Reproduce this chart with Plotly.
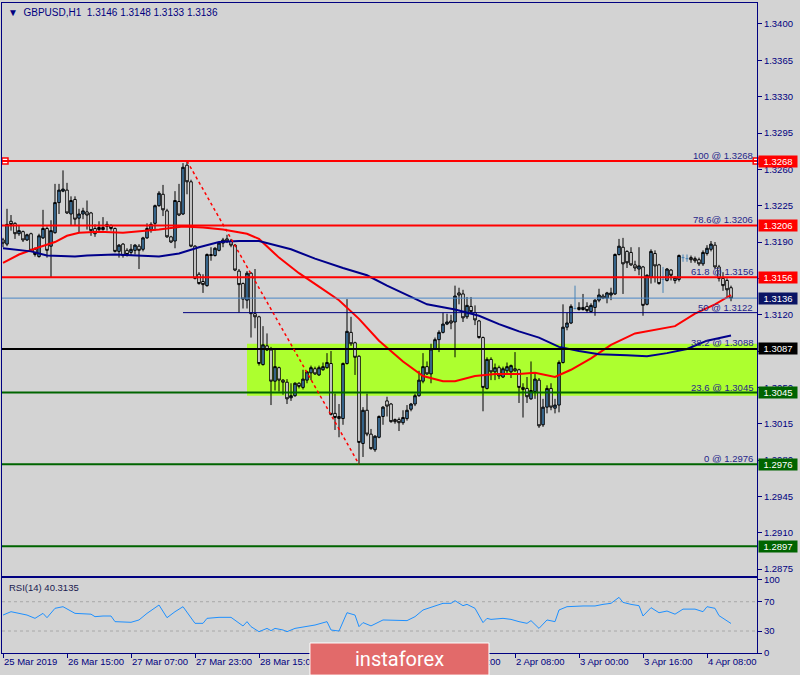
import plotly.graph_objects as go

# ---------------- data ----------------
bar_index = list(range(183))
opens = [1.3192,1.3188,1.3210,1.3208,1.3198,1.3200,1.3192,1.3198,1.3183,1.3176,
         1.3194,1.3203,1.3186,1.3199,1.3228,1.3239,1.3240,1.3217,1.3231,1.3213,
         1.3217,1.3219,1.3218,1.3203,1.3202,1.3202,1.3207,1.3206,1.3203,1.3181,
         1.3188,1.3182,1.3180,1.3182,1.3186,1.3183,1.3194,1.3202,1.3208,1.3225,
         1.3236,1.3220,1.3195,1.3191,1.3229,1.3217,1.3264,1.3248,1.3186,1.3159,
         1.3152,1.3148,1.3178,1.3177,1.3182,1.3189,1.3193,1.3191,1.3187,1.3162,
         1.3150,1.3134,1.3160,1.3121,1.3118,1.3072,1.3090,1.3086,1.3056,1.3069,
         1.3057,1.3055,1.3040,1.3042,1.3054,1.3050,1.3057,1.3064,1.3068,1.3062,
         1.3067,1.3069,1.3073,1.3025,1.3022,1.3020,1.3073,1.3103,1.3093,1.3080,
         1.2996,1.3028,1.3005,1.2990,1.3002,1.3022,1.3037,1.3034,1.3019,1.3019,
         1.3016,1.3020,1.3029,1.3034,1.3042,1.3056,1.3070,1.3063,1.3087,1.3096,
         1.3103,1.3111,1.3114,1.3113,1.3141,1.3140,1.3118,1.3128,1.3122,1.3114,
         1.3098,1.3049,1.3077,1.3065,1.3069,1.3060,1.3066,1.3065,1.3068,1.3067,
         1.3050,1.3049,1.3039,1.3046,1.3057,1.3014,1.3031,1.3049,1.3030,1.3033,
         1.3074,1.3108,1.3112,1.3126,1.3127,1.3125,1.3128,1.3123,1.3127,1.3134,
         1.3138,1.3136,1.3139,1.3140,1.3178,1.3185,1.3181,1.3180,1.3168,1.3164,
         1.3166,1.3130,1.3156,1.3179,1.3168,1.3154,1.3153,1.3163,1.3153,1.3154,
         1.3175,1.3174,1.3175,1.3174,1.3173,1.3169,1.3179,1.3183,1.3187,1.3166,
         1.3155,1.3153,1.3146]
highs = [1.3194,1.3222,1.3216,1.3209,1.3206,1.3201,1.3198,1.3199,1.3185,1.3198,
         1.3221,1.3205,1.3211,1.3246,1.3246,1.3259,1.3247,1.3234,1.3234,1.3222,
         1.3223,1.3230,1.3219,1.3207,1.3210,1.3214,1.3210,1.3207,1.3204,1.3188,
         1.3189,1.3184,1.3188,1.3188,1.3188,1.3195,1.3208,1.3209,1.3226,1.3239,
         1.3245,1.3222,1.3196,1.3239,1.3246,1.3266,1.3268,1.3250,1.3187,1.3161,
         1.3159,1.3179,1.3185,1.3185,1.3190,1.3194,1.3197,1.3193,1.3188,1.3164,
         1.3151,1.3162,1.3161,1.3164,1.3119,1.3109,1.3102,1.3089,1.3086,1.3070,
         1.3058,1.3058,1.3054,1.3055,1.3055,1.3067,1.3066,1.3071,1.3070,1.3071,
         1.3074,1.3083,1.3085,1.3044,1.3034,1.3074,1.3135,1.3118,1.3094,1.3081,
         1.3031,1.3044,1.3010,1.3004,1.3023,1.3032,1.3041,1.3035,1.3020,1.3021,
         1.3028,1.3033,1.3035,1.3044,1.3066,1.3083,1.3075,1.3092,1.3098,1.3105,
         1.3122,1.3121,1.3120,1.3148,1.3146,1.3144,1.3137,1.3137,1.3129,1.3115,
         1.3099,1.3079,1.3079,1.3073,1.3071,1.3070,1.3074,1.3072,1.3084,1.3068,
         1.3054,1.3060,1.3075,1.3063,1.3059,1.3039,1.3052,1.3054,1.3039,1.3076,
         1.3130,1.3122,1.3130,1.3148,1.3132,1.3140,1.3132,1.3131,1.3135,1.3145,
         1.3140,1.3142,1.3146,1.3179,1.3193,1.3194,1.3182,1.3185,1.3172,1.3185,
         1.3167,1.3159,1.3183,1.3182,1.3169,1.3166,1.3165,1.3164,1.3157,1.3178,
         1.3178,1.3178,1.3177,1.3176,1.3175,1.3182,1.3187,1.3191,1.3190,1.3168,
         1.3161,1.3155,1.3148]
lows = [1.3185,1.3186,1.3201,1.3193,1.3196,1.3190,1.3191,1.3181,1.3176,1.3175,
        1.3193,1.3175,1.3156,1.3198,1.3217,1.3238,1.3217,1.3206,1.3206,1.3199,
        1.3212,1.3202,1.3196,1.3195,1.3200,1.3201,1.3201,1.3201,1.3180,1.3175,
        1.3175,1.3176,1.3177,1.3178,1.3164,1.3181,1.3193,1.3199,1.3201,1.3224,
        1.3215,1.3194,1.3189,1.3184,1.3215,1.3216,1.3236,1.3185,1.3154,1.3149,
        1.3141,1.3147,1.3172,1.3176,1.3181,1.3185,1.3189,1.3185,1.3162,1.3122,
        1.3126,1.3126,1.3098,1.3107,1.3071,1.3071,1.3085,1.3033,1.3047,1.3046,
        1.3043,1.3034,1.3037,1.3041,1.3049,1.3048,1.3054,1.3057,1.3062,1.3061,
        1.3066,1.3068,1.3023,1.3009,1.3002,1.3014,1.3072,1.3090,1.3062,1.2976,
        1.2983,1.3003,1.2990,1.2988,1.3001,1.3014,1.3022,1.3016,1.3015,1.3008,
        1.3014,1.3018,1.3027,1.3032,1.3041,1.3054,1.3062,1.3054,1.3086,1.3084,
        1.3102,1.3110,1.3106,1.3079,1.3130,1.3113,1.3116,1.3121,1.3110,1.3097,
        1.3027,1.3048,1.3057,1.3057,1.3058,1.3059,1.3063,1.3059,1.3065,1.3035,
        1.3021,1.3035,1.3038,1.3039,1.3011,1.3012,1.3025,1.3028,1.3025,1.3026,
        1.3073,1.3105,1.3111,1.3125,1.3124,1.3124,1.3122,1.3122,1.3119,1.3132,
        1.3135,1.3131,1.3134,1.3139,1.3177,1.3140,1.3165,1.3167,1.3162,1.3158,
        1.3119,1.3129,1.3150,1.3151,1.3149,1.3141,1.3152,1.3153,1.3150,1.3152,
        1.3171,1.3171,1.3170,1.3170,1.3167,1.3167,1.3177,1.3181,1.3164,1.3152,
        1.3143,1.3137,1.3133]
closes = [1.3189,1.3207,1.3207,1.3198,1.3201,1.3192,1.3197,1.3182,1.3178,1.3196,
          1.3203,1.3182,1.3201,1.3228,1.3240,1.3241,1.3218,1.3230,1.3212,1.3217,
          1.3220,1.3216,1.3201,1.3198,1.3204,1.3204,1.3205,1.3203,1.3181,1.3187,
          1.3177,1.3178,1.3183,1.3187,1.3182,1.3194,1.3203,1.3207,1.3225,1.3237,
          1.3221,1.3195,1.3190,1.3230,1.3216,1.3262,1.3248,1.3186,1.3155,1.3150,
          1.3149,1.3178,1.3177,1.3184,1.3189,1.3192,1.3191,1.3187,1.3163,1.3149,
          1.3135,1.3160,1.3121,1.3118,1.3073,1.3091,1.3086,1.3056,1.3070,1.3057,
          1.3055,1.3039,1.3042,1.3054,1.3051,1.3058,1.3065,1.3069,1.3063,1.3069,
          1.3070,1.3074,1.3024,1.3021,1.3020,1.3073,1.3104,1.3092,1.3079,1.2997,
          1.3028,1.3005,1.2991,1.3003,1.3022,1.3031,1.3032,1.3017,1.3017,1.3016,
          1.3021,1.3028,1.3034,1.3042,1.3057,1.3070,1.3063,1.3087,1.3096,1.3103,
          1.3111,1.3113,1.3112,1.3138,1.3139,1.3117,1.3129,1.3123,1.3115,1.3098,
          1.3050,1.3077,1.3065,1.3069,1.3061,1.3068,1.3070,1.3071,1.3066,1.3050,
          1.3048,1.3041,1.3047,1.3058,1.3013,1.3031,1.3049,1.3031,1.3033,1.3074,
          1.3108,1.3112,1.3128,1.3126,1.3125,1.3127,1.3124,1.3129,1.3134,1.3139,
          1.3136,1.3141,1.3141,1.3178,1.3186,1.3169,1.3170,1.3168,1.3165,1.3167,
          1.3129,1.3158,1.3181,1.3167,1.3150,1.3154,1.3164,1.3158,1.3156,1.3177,
          1.3175,1.3174,1.3173,1.3172,1.3169,1.3180,1.3184,1.3188,1.3166,1.3155,
          1.3148,1.3144,1.3136]

ma_fast_idx = [0, 4, 9, 13, 16, 19, 24, 30, 39, 45, 50, 55, 61, 64, 69, 74, 79, 84, 89, 94,
               100, 105, 110, 113, 118, 123, 129, 133, 138, 142, 147, 152, 158, 162, 168, 173, 178, 182]
ma_fast = [1.3170, 1.3178, 1.3185, 1.3190, 1.3196, 1.3199, 1.3200, 1.3199, 1.3202, 1.3205,
           1.3204, 1.3202, 1.3198, 1.3193, 1.3175, 1.3160, 1.3147, 1.3134, 1.3116, 1.3095,
           1.3075, 1.3061, 1.3056, 1.3056, 1.3061, 1.3063, 1.3063, 1.3064, 1.3060, 1.3067,
           1.3078, 1.3091, 1.3102, 1.3105, 1.3109, 1.3121, 1.3130, 1.3139]
ma_slow_idx = [0, 7, 11, 18, 21, 28, 39, 44, 49, 54, 59, 64, 72, 78, 85, 91, 96, 100, 106,
               113, 119, 124, 129, 134, 139, 144, 149, 156, 161, 166, 171, 176, 181, 182]
ma_slow = [1.3184, 1.3181, 1.3177, 1.3176, 1.3177, 1.3178, 1.3176, 1.3179, 1.3185, 1.3190,
           1.3191, 1.3191, 1.3183, 1.3174, 1.3165, 1.3158, 1.3148, 1.3141, 1.3130,
           1.3125, 1.3119, 1.3111, 1.3104, 1.3098, 1.3089, 1.3085, 1.3082, 1.3081, 1.3080,
           1.3083, 1.3087, 1.3095, 1.3099, 1.3100]

rsi_idx = [0, 2, 4, 6, 8, 10, 11, 13, 15, 17, 18, 22, 23, 25, 27, 28, 30, 32, 34, 36, 39, 41,
           43, 45, 48, 50, 51, 54, 57, 60, 61, 62, 64, 66, 67, 68, 70, 71, 73, 76, 78, 81, 82,
           84, 86, 88, 89, 90, 92, 95, 99, 101, 103, 105, 108, 110, 112, 113, 115, 116, 118,
           120, 121, 122, 125, 127, 129, 131, 132, 134, 136, 138, 139, 141, 145, 148, 150, 152,
           154, 155, 157, 159, 160, 162, 164, 166, 168, 170, 173, 175, 176, 178, 179, 180, 182]
rsi_vals = [51.8, 56.4, 54.1, 51.8, 47.3, 54.1, 48.2, 61.0, 63.2, 56.4, 54.1, 53.0, 49.6, 50.5,
            50.5, 42.8, 42.8, 41.9, 45.1, 54.1, 65.5, 48.2, 56.4, 63.2, 40.5, 40.5, 47.3, 48.7,
            48.7, 36.9, 42.8, 36.0, 29.1, 33.6, 30.5, 33.6, 31.4, 29.1, 33.6, 36.0, 38.2, 42.8,
            31.4, 30.0, 55.0, 51.8, 36.0, 41.5, 37.0, 45.1, 44.2, 44.2, 49.6, 58.7, 64.2, 67.8,
            67.8, 71.4, 64.6, 66.4, 61.0, 41.5, 47.3, 45.9, 47.3, 45.9, 42.8, 40.5, 44.2, 33.6,
            45.1, 42.8, 58.7, 63.2, 64.2, 64.2, 66.4, 67.8, 76.0, 69.1, 66.4, 64.6, 50.5, 61.9,
            55.0, 57.3, 53.0, 59.9, 59.9, 56.4, 63.2, 61.0, 51.0, 47.3, 40.3]

time_tick_idx = [0, 16, 32, 48, 64, 80, 96, 112, 128, 144, 160, 176]
time_tick_labels = ["25 Mar 2019", "26 Mar 15:00", "27 Mar 07:00", "27 Mar 23:00",
                    "28 Mar 15:00", "29 Mar 07:00", "29 Mar 23:00", "1 Apr 16:00",
                    "2 Apr 08:00", "3 Apr 00:00", "3 Apr 16:00", "4 Apr 08:00"]
price_ticks = [1.2875, 1.2910, 1.2945, 1.2980, 1.3015, 1.3050, 1.3085, 1.3120,
               1.3155, 1.3190, 1.3225, 1.3260, 1.3295, 1.3330, 1.3365, 1.3400]
rsi_ticks = [0, 30, 70, 100]

# horizontal levels: price, colour, width, starting bar
level_prices = [1.3268, 1.3206, 1.3156, 1.3136, 1.3122, 1.3087, 1.3045, 1.2976, 1.2897]
level_colors = ["#ff0000", "#ff0000", "#ff0000", "#4a86c6", "#000080", "#000000",
                "#006400", "#006400", "#006400"]
level_widths = [2, 2, 2, 1, 1, 2, 2, 2, 2]
level_start = [None, None, None, None, 45, None, None, None, None]
box_prices = [1.3268, 1.3206, 1.3156, 1.3136, 1.3087, 1.3045, 1.2976, 1.2897]
box_colors = ["#ff0000", "#ff0000", "#ff0000", "#0a1464", "#000000", "#006400", "#006400", "#006400"]

fib_texts = ["100 @ 1.3268", "78.6@ 1.3206", "61.8 @ 1.3156", "50 @ 1.3122",
             "38.2 @ 1.3088", "23.6 @ 1.3045", "0 @ 1.2976"]
fib_prices = [1.3268, 1.3206, 1.3156, 1.3122, 1.3088, 1.3045, 1.2976]

zone_low, zone_high, zone_start = 1.3042, 1.3092, 61
fib_from = (46, 1.3268)
fib_to = (89, 1.2976)

# ---------------- figure ----------------
NAVY = "#000080"
BG = "#d3d3d3"
FONT = "Liberation Sans, Arial, sans-serif"
X_MIN, X_MAX = -0.25, 188.5

normal = [i for i in bar_index if opens[i] != closes[i]]
doji = [i for i in bar_index if opens[i] == closes[i]]

fig = go.Figure()
fig.add_trace(go.Candlestick(
    x=[bar_index[i] for i in normal],
    open=[opens[i] for i in normal], high=[highs[i] for i in normal],
    low=[lows[i] for i in normal], close=[closes[i] for i in normal],
    increasing=dict(line=dict(color="black", width=1), fillcolor="#4682b4"),
    decreasing=dict(line=dict(color="black", width=1), fillcolor="#ffffff"),
    whiskerwidth=0, xaxis="x", yaxis="y", hoverinfo="skip"))

dx, dy = [], []
for i in doji:
    dx += [bar_index[i], bar_index[i], None, bar_index[i] - 0.35, bar_index[i] + 0.35, None]
    dy += [lows[i], highs[i], None, opens[i], opens[i], None]
fig.add_trace(go.Scatter(x=dx, y=dy, mode="lines", line=dict(color="#4682b4", width=1),
                         xaxis="x", yaxis="y", hoverinfo="skip"))

fig.add_trace(go.Scatter(x=ma_fast_idx, y=ma_fast, mode="lines",
                         line=dict(color="#ff0000", width=2), xaxis="x", yaxis="y"))
fig.add_trace(go.Scatter(x=ma_slow_idx, y=ma_slow, mode="lines",
                         line=dict(color="#00008b", width=2), xaxis="x", yaxis="y"))
fig.add_trace(go.Scatter(x=[0.5, X_MAX - 0.2], y=[level_prices[0], level_prices[0]], mode="markers",
                         marker=dict(symbol="square", size=6, color="white",
                                     line=dict(color="#ff0000", width=1.5)),
                         xaxis="x", yaxis="y", cliponaxis=False))
fig.add_trace(go.Scatter(x=rsi_idx, y=rsi_vals, mode="lines",
                         line=dict(color="#1e90ff", width=1), xaxis="x2", yaxis="y2"))

shapes = [dict(type="rect", xref="x", yref="y", x0=zone_start, x1=X_MAX, y0=zone_low, y1=zone_high,
               fillcolor="#adff2f", line=dict(width=0), layer="below")]
for p, c, w, s in zip(level_prices, level_colors, level_widths, level_start):
    shapes.append(dict(type="line", xref="x", yref="y", x0=X_MIN if s is None else s, x1=X_MAX,
                       y0=p, y1=p, line=dict(color=c, width=w), layer="above"))
shapes.append(dict(type="line", xref="x", yref="y", x0=fib_from[0], y0=fib_from[1],
                   x1=fib_to[0], y1=fib_to[1], line=dict(color="#ff0000", width=1.5, dash="dot"),
                   layer="above"))
for v in (70, 30):
    shapes.append(dict(type="line", xref="x2", yref="y2", x0=X_MIN, x1=X_MAX, y0=v, y1=v,
                       line=dict(color="#a8a8a8", width=1, dash="dot"), layer="below"))
shapes.append(dict(type="rect", xref="paper", yref="paper", x0=0.4079, x1=0.645,
                   y0=-0.034, y1=0.0154, fillcolor="#e26a6a", line=dict(color="white", width=1),
                   layer="above"))

ann = []
ann.append(dict(xref="paper", yref="paper", x=0.005, y=0.986, xanchor="left", yanchor="middle",
                text="\u25bc\u00a0 GBPUSD,H1\u00a0\u00a01.3146 1.3148 1.3133 1.3136", showarrow=False,
                font=dict(size=10, color=NAVY, family=FONT)))
ann.append(dict(xref="paper", yref="paper", x=0.0066, y=0.1015, xanchor="left", yanchor="middle",
                text="RSI(14) 40.3135", showarrow=False, font=dict(size=9.5, color="#1a1a50", family=FONT)))
for t, p in zip(fib_texts, fib_prices):
    ann.append(dict(xref="paper", yref="y", x=1, y=p, xanchor="right", yanchor="bottom", xshift=-2,
                    yshift=-2, text=t, showarrow=False, font=dict(size=9.5, color="#26268a", family=FONT)))
for p, c in zip(box_prices, box_colors):
    ann.append(dict(xref="paper", yref="y", x=1, y=p, xanchor="left", yanchor="middle", xshift=1,
                    text=f"{p:.4f}", showarrow=False, bgcolor=c, borderpad=0, width=38, height=11,
                    font=dict(size=9.5, color="white", family=FONT)))
ann.append(dict(xref="paper", yref="paper", x=0.527, y=-0.0095, xanchor="center", yanchor="middle",
                text="instaforex", showarrow=False, font=dict(size=20, color="white", family="Roboto, Arial")))

axis_common = dict(showgrid=False, zeroline=False, showline=True, mirror=True, linecolor=NAVY,
                   linewidth=1, automargin=False)
fig.update_layout(
    width=800, height=675, margin=dict(l=2, r=43, t=3, b=22, autoexpand=False),
    paper_bgcolor=BG, plot_bgcolor=BG, showlegend=False, boxgap=0.1,
    font=dict(family=FONT, size=9.5, color=NAVY),
    xaxis=dict(domain=[0, 1], range=[X_MIN, X_MAX], anchor="y", showticklabels=False, ticks="",
               rangeslider=dict(visible=False), **axis_common),
    yaxis=dict(domain=[0.1185, 1], range=[1.28684, 1.34202], side="right", anchor="x",
               tickvals=price_ticks, ticktext=[f"{v:.4f}" for v in price_ticks], ticks="outside",
               ticklen=4, tickcolor=NAVY, tickfont=dict(size=9.5, color=NAVY), **axis_common),
    xaxis2=dict(domain=[0, 1], range=[X_MIN, X_MAX], anchor="y2", tickvals=time_tick_idx,
                ticktext=time_tick_labels, ticks="outside", ticklen=4, tickcolor=NAVY, tickangle=0,
                ticklabelposition="outside right", tickfont=dict(size=9.5, color=NAVY), **axis_common),
    yaxis2=dict(domain=[0, 0.1154], range=[0, 102.4], side="right", anchor="x2",
                tickvals=rsi_ticks, ticks="outside", ticklen=4, tickcolor=NAVY,
                tickfont=dict(size=9.5, color=NAVY), **axis_common),
    shapes=shapes, annotations=ann,
)

fig.write_html("out.html", config={"displayModeBar": False},
               post_script="document.body.style.margin='0';document.body.style.background='#d3d3d3';")
